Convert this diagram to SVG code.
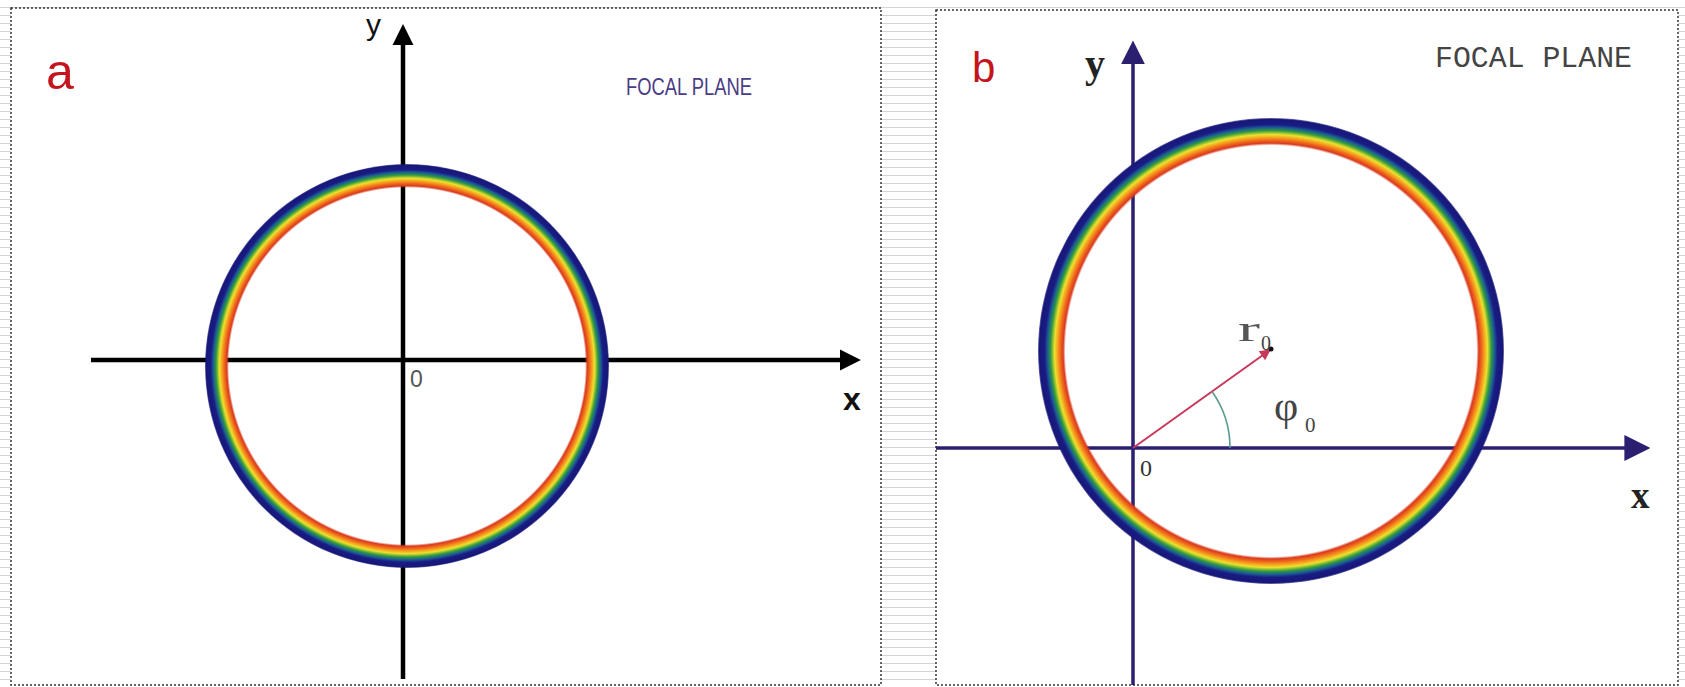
<svg xmlns="http://www.w3.org/2000/svg" width="1685" height="687" viewBox="0 0 1685 687">
<style>
.panel{fill:#fff;stroke:#333;stroke-width:1.5;stroke-dasharray:2 2}
.axA{stroke:#000;stroke-width:4.5;fill:none}
.axB{stroke:#2b1f70;stroke-width:3.5;fill:none}
.lbl{font-family:"Liberation Sans",Arial,sans-serif}
.mono{font-family:"Liberation Mono","Courier New",monospace}
.serif{font-family:"Liberation Serif","Times New Roman",serif}
.red{fill:#c4141e}
</style>
<defs>
<pattern id="stripes" width="8" height="8" patternUnits="userSpaceOnUse">
<rect width="8" height="8" fill="#fff"/>
<rect y="7" width="8" height="1" fill="#d4d4d4"/>
</pattern>
<radialGradient id="ring" cx="0.5" cy="0.5" r="0.5">
<stop offset="0" stop-color="#fff" stop-opacity="0"/>
<stop offset="0.882" stop-color="#e03a1a" stop-opacity="0"/>
<stop offset="0.892" stop-color="#d83a20"/>
<stop offset="0.905" stop-color="#f06a1a"/>
<stop offset="0.916" stop-color="#f5a020"/>
<stop offset="0.929" stop-color="#ece22c"/>
<stop offset="0.946" stop-color="#2f9a3e"/>
<stop offset="0.960" stop-color="#1b5a98"/>
<stop offset="0.972" stop-color="#1a1c82"/>
<stop offset="0.994" stop-color="#17177a"/>
<stop offset="1" stop-color="#17177a" stop-opacity="0.6"/>
</radialGradient>
<marker id="arrA" viewBox="0 0 10 10" refX="1" refY="5" markerUnits="userSpaceOnUse" markerWidth="21" markerHeight="24" orient="auto">
<path d="M0,0 L10,5 L0,10 z" fill="#000"/>
</marker>
<marker id="arrBx" viewBox="0 0 10 10" refX="1" refY="5" markerUnits="userSpaceOnUse" markerWidth="26" markerHeight="27" orient="auto">
<path d="M0,0 L10,5 L0,10 z" fill="#2b1f70"/>
</marker>
<marker id="arrBy" viewBox="0 0 10 10" refX="1" refY="5" markerUnits="userSpaceOnUse" markerWidth="24" markerHeight="27" orient="auto">
<path d="M0,0 L10,5 L0,10 z" fill="#2b1f70"/>
</marker>
<marker id="arrR" viewBox="0 0 10 10" refX="9" refY="5" markerUnits="userSpaceOnUse" markerWidth="13" markerHeight="11" orient="auto">
<path d="M0,0 L10,5 L0,10 z" fill="#c8385a"/>
</marker>
</defs>

<rect width="1685" height="687" fill="url(#stripes)"/>

<g id="panel-a">
<rect class="panel" x="11" y="8" width="870" height="677"/>
<text class="lbl red" x="46" y="89" font-size="50">a</text>
<text class="lbl" x="626" y="95" font-size="24" fill="#4a3d85" textLength="126" lengthAdjust="spacingAndGlyphs">FOCAL PLANE</text>
<g id="axes-a">
<line class="axA" x1="91" y1="360" x2="842" y2="360" marker-end="url(#arrA)"/>
<line class="axA" x1="403" y1="679" x2="403" y2="43" marker-end="url(#arrA)"/>
</g>
<circle id="ring-a" cx="407" cy="366" r="202" fill="url(#ring)"/>
<text class="lbl" x="366" y="35" font-size="30" fill="#111">y</text>
<text class="lbl" x="843" y="410" font-size="32" font-weight="bold" fill="#111">x</text>
<text class="lbl" x="410" y="387" font-size="23" fill="#555">0</text>
</g>

<g id="panel-b">
<rect class="panel" x="936" y="10" width="742" height="675"/>
<text class="lbl red" x="972" y="82" font-size="42">b</text>
<text class="mono" x="1435" y="67" font-size="29" fill="#444" textLength="197" lengthAdjust="spacingAndGlyphs">FOCAL PLANE</text>
<g id="axes-b">
<line class="axB" x1="936" y1="448" x2="1627" y2="448" marker-end="url(#arrBx)"/>
<line class="axB" x1="1133" y1="685" x2="1133" y2="62" marker-end="url(#arrBy)"/>
</g>
<circle id="ring-b" cx="1271" cy="351" r="233" fill="url(#ring)"/>
<g id="vector">
<line x1="1133" y1="448" x2="1270" y2="350" stroke="#c8385a" stroke-width="2" marker-end="url(#arrR)"/>
<circle cx="1271" cy="349" r="2.5" fill="#111"/>
<path d="M1230,448 A97,97 0 0 0 1212,391.5" fill="none" stroke="#5a9a90" stroke-width="1.6"/>
</g>
<text class="serif" x="1085" y="77" font-size="40" font-weight="bold" fill="#222">y</text>
<text class="serif" x="1631" y="508" font-size="37" font-weight="bold" fill="#222">x</text>
<text class="serif" x="1140" y="476" font-size="24" fill="#333">0</text>
<text class="serif" x="1238" y="341" font-size="36" fill="#555" textLength="22" lengthAdjust="spacingAndGlyphs">r</text>
<text class="serif" x="1261" y="350" font-size="20" fill="#444">0</text>
<text class="serif" x="1274" y="420" font-size="42" fill="#444">φ</text>
<text class="serif" x="1305" y="432" font-size="21" fill="#444">0</text>
</g>
</svg>
